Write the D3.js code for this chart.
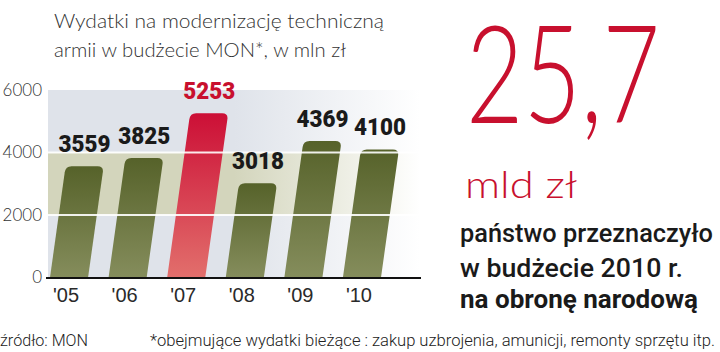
<!DOCTYPE html>
<html>
<head>
<meta charset="utf-8">
<script src="https://cdn.jsdelivr.net/npm/d3@7"></script>
<style>
  body { margin: 0; background: #fff; }
  svg { display: block; }
</style>
</head>
<body>
<div id="chart"></div>
<script>
// data
const years = ["'05", "'06", "'07", "'08", "'09", "'10"]
const values = [3559, 3825, 5253, 3018, 4369, 4100]
const highlighted = ["'07"]
const yTicks = [0, 2000, 4000, 6000]
const titleLines = ['Wydatki na modernizację techniczną', 'armii w budżecie MON*, w mln zł']
const bigNumber = '25,7'
const unit = 'mld zł'
const sideLines = ['państwo przeznaczyło', 'w budżecie 2010 r.', 'na obronę narodową']
const source = 'źródło: MON'
const footnote = '*obejmujące wydatki bieżące : zakup  uzbrojenia, amunicji, remonty  sprzętu itp.'

const W = 720, H = 352
const red = '#c8102e'
const skew = 0.14 // bars lean to the right

let svg = d3.select('#chart').append('svg').attr('width', W).attr('height', H)
let defs = svg.append('defs')

let x = d3.scaleBand().domain(years).range([50, 381]).paddingInner(0.35).paddingOuter(0)
let y = d3.scaleLinear().domain([0, 6000]).range([277.5, 90])

// background bands fading to white on the right
function fadeGrad(id, color) {
  let g = defs.append('linearGradient').attr('id', id)
    .attr('gradientUnits', 'userSpaceOnUse')
    .attr('x1', 48).attr('x2', 420).attr('y1', 0).attr('y2', 0)
  g.append('stop').attr('offset', '0%').attr('stop-color', color)
  g.append('stop').attr('offset', '50%').attr('stop-color', color)
  g.append('stop').attr('offset', '100%').attr('stop-color', '#ffffff')
}
fadeGrad('bandBlue', '#dfe3ea')
fadeGrad('bandBeige', '#d3d5bc')

let bands = [
  {from: 4000, to: 6000, fill: 'url(#bandBlue)'},
  {from: 2000, to: 4000, fill: 'url(#bandBeige)'},
  {from: 0, to: 2000, fill: 'url(#bandBlue)'}
]
svg.append('g').selectAll('rect').data(bands).enter().append('rect')
  .attr('x', 48)
  .attr('width', 372)
  .attr('y', d => y(d.to))
  .attr('height', d => y(d.from) - y(d.to))
  .attr('fill', d => d.fill)

// bar gradients
function vGrad(id, top, bottom) {
  let g = defs.append('linearGradient').attr('id', id)
    .attr('x1', 0).attr('x2', 0).attr('y1', 0).attr('y2', 1)
  g.append('stop').attr('offset', '0%').attr('stop-color', top)
  g.append('stop').attr('offset', '100%').attr('stop-color', bottom)
}
vGrad('olive', '#56622a', '#858d5c')
vGrad('redBar', '#cc0f36', '#e26f6c')

function barPath(d) {
  let x0 = x(d.year), w = x.bandwidth()
  let yb = y(0), yt = y(d.value), h = yb - yt
  let r = 6
  let off = skew * h
  let offR = skew * (h - r)
  return 'M' + x0 + ',' + yb +
    'L' + (x0 + w) + ',' + yb +
    'L' + (x0 + w + offR) + ',' + (yt + r) +
    'Q' + (x0 + w + off) + ',' + yt + ' ' + (x0 + w + off - r) + ',' + yt +
    'L' + (x0 + off + r) + ',' + yt +
    'Q' + (x0 + off) + ',' + yt + ' ' + (x0 + offR) + ',' + (yt + r) +
    'Z'
}

let data = years.map((yr, i) => ({year: yr, value: values[i]}))

svg.append('g').selectAll('path').data(data).enter().append('path')
  .attr('d', barPath)
  .attr('fill', d => highlighted.includes(d.year) ? 'url(#redBar)' : 'url(#olive)')

// white gridlines across bars
svg.append('g').selectAll('line').data([2000, 4000]).enter().append('line')
  .attr('x1', 48).attr('x2', 420)
  .attr('y1', d => y(d)).attr('y2', d => y(d))
  .attr('stroke', '#fff').attr('stroke-width', 2).attr('stroke-opacity', 0.9)

// value labels
svg.append('g').selectAll('text').data(data).enter().append('text')
  .attr('x', d => x(d.year) + x.bandwidth() / 2 + skew * (y(0) - y(d.value)))
  .attr('y', d => y(d.value) - 14)
  .attr('text-anchor', 'middle')
  .attr('font-family', 'Roboto, sans-serif')
  .attr('font-weight', 900)
  .attr('font-size', 23)
  .attr('fill', d => highlighted.includes(d.year) ? red : '#1a1a1a')
  .attr('textLength', 52)
  .attr('lengthAdjust', 'spacingAndGlyphs')
  .text(d => d.value)

// y axis
let yAxis = svg.append('g')
  .attr('transform', 'translate(46,0)')
  .call(d3.axisLeft(y).tickValues(yTicks).tickSize(0).tickPadding(4).tickFormat(d3.format('d')))
yAxis.select('.domain').remove()
yAxis.selectAll('text')
  .attr('font-family', 'Lato, sans-serif')
  .attr('font-weight', 300)
  .attr('font-size', 17)
  .attr('fill', '#333')

// x axis
let xAxis = svg.append('g')
  .attr('transform', 'translate(0,' + y(0) + ')')
  .call(d3.axisBottom(x).tickSize(0).tickPadding(10))
xAxis.select('.domain').remove()
xAxis.selectAll('text')
  .attr('dx', -3)
  .attr('font-family', 'Liberation Sans, Arial, sans-serif')
  .attr('font-size', 20)
  .attr('fill', '#2a2a2a')

svg.append('line')
  .attr('x1', 46).attr('x2', 421)
  .attr('y1', 278).attr('y2', 278)
  .attr('stroke', '#111').attr('stroke-width', 2)

// title
svg.append('g').selectAll('text').data(titleLines).enter().append('text')
  .attr('x', 54)
  .attr('y', (d, i) => 28 + i * 29)
  .attr('font-family', 'Lato, sans-serif')
  .attr('font-weight', 300)
  .attr('font-size', 19)
  .attr('fill', '#333')
  .attr('textLength', (d, i) => i === 0 ? 330 : 292)
  .attr('lengthAdjust', 'spacingAndGlyphs')
  .text(d => d)

// right side
svg.append('text')
  .attr('x', 466).attr('y', 123)
  .attr('font-family', 'Lato, sans-serif')
  .attr('font-weight', 300)
  .attr('font-size', 136)
  .attr('fill', red)
  .attr('textLength', 194)
  .attr('lengthAdjust', 'spacingAndGlyphs')
  .text(bigNumber)

svg.append('text')
  .attr('x', 465).attr('y', 198)
  .attr('font-family', 'Lato, sans-serif')
  .attr('font-weight', 300)
  .attr('font-size', 38)
  .attr('fill', red)
  .attr('textLength', 112)
  .attr('lengthAdjust', 'spacingAndGlyphs')
  .text(unit)

let sideLen = [253, 223, 238]
svg.append('g').selectAll('text').data(sideLines).enter().append('text')
  .attr('x', 460)
  .attr('y', (d, i) => [242, 277, 308][i])
  .attr('font-family', 'Roboto, sans-serif')
  .attr('font-weight', (d, i) => i === 2 ? 700 : 500)
  .attr('font-size', 25)
  .attr('fill', '#1a1a1a')
  .attr('textLength', (d, i) => sideLen[i])
  .attr('lengthAdjust', 'spacingAndGlyphs')
  .text(d => d)

// footer
svg.append('text')
  .attr('x', 0).attr('y', 346)
  .attr('font-family', 'Roboto, sans-serif')
  .attr('font-weight', 300)
  .attr('font-size', 16)
  .attr('fill', '#222')
  .attr('textLength', 88)
  .attr('lengthAdjust', 'spacingAndGlyphs')
  .text(source)

svg.append('text')
  .attr('x', 150).attr('y', 346)
  .attr('font-family', 'Roboto, sans-serif')
  .attr('font-weight', 300)
  .attr('font-size', 16)
  .attr('fill', '#222')
  .attr('textLength', 565)
  .attr('lengthAdjust', 'spacingAndGlyphs')
  .text(footnote)
</script>
</body>
</html>
